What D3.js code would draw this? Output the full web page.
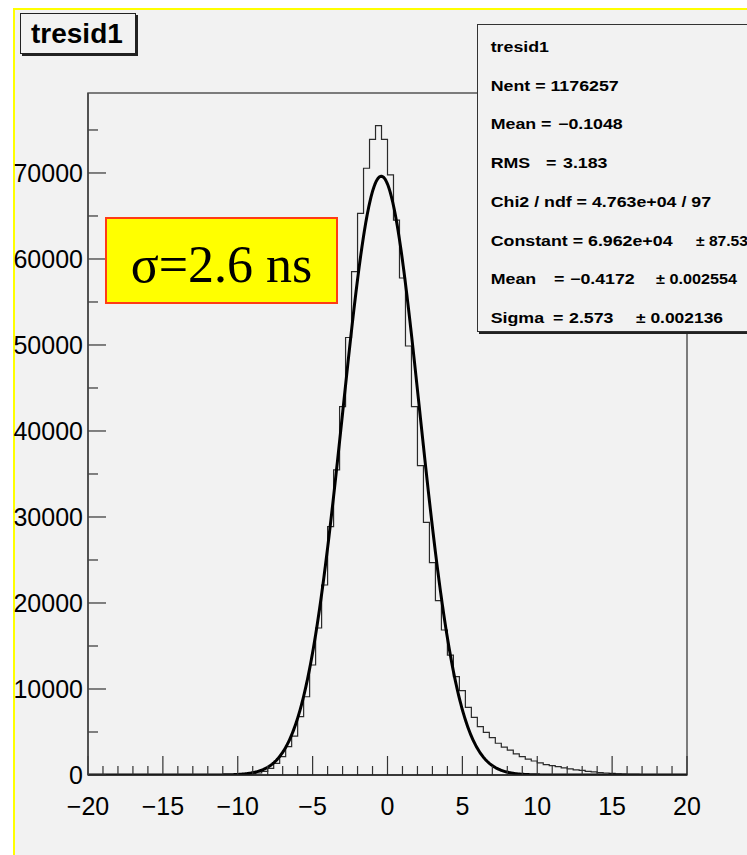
<!DOCTYPE html>
<html>
<head>
<meta charset="utf-8">
<script src="https://cdn.jsdelivr.net/npm/d3@7"></script>
<style>
  html, body { margin: 0; padding: 0; background: #ffffff; }
  svg { display: block; }
  text { white-space: pre; }
</style>
</head>
<body>
<svg id="chart" width="747" height="855"></svg>
<script>
// ---------------- data ----------------
const histName = "tresid1";
const binLow = -20, binHigh = 20, nBins = 100;
// bin contents (bin width 0.4, from -20 to 20)
const binCounts = [
  0, 0, 0, 0, 0, 0, 0, 0, 0, 0,
  0, 0, 0, 0, 0, 0, 0, 0, 0, 0,
  0, 0, 10, 15, 25, 40, 70, 120, 230, 420,
  780, 1360, 2130, 3290, 4530, 6780, 9100, 12790, 17090, 22090,
  28870, 35470, 42830, 50870, 58520, 65310, 70550, 73900, 75500, 73900,
  69770, 64530, 57790, 49880, 42830, 35970, 29380, 24690, 20270, 16860,
  13950, 11430, 9800, 7870, 6710, 5620, 4960, 4340, 3690, 3250,
  2900, 2450, 2130, 1850, 1630, 1400, 1200, 1080, 970, 820,
  720, 600, 530, 420, 360, 280, 230, 180, 140, 110,
  90, 70, 55, 45, 35, 28, 22, 18, 14, 10
];
// gaussian fit parameters shown in the stats box: Constant, Mean, Sigma
const fitParams = [69620, -0.4172, 2.573];
const xTickLabels = ["\u221220", "\u221215", "\u221210", "\u22125", "0", "5", "10", "15", "20"];
const xTickValues = [-20, -15, -10, -5, 0, 5, 10, 15, 20];
const yTickValues = [0, 10000, 20000, 30000, 40000, 50000, 60000, 70000];
const yTickLabels = ["0", "10000", "20000", "30000", "40000", "50000", "60000", "70000"];
const yMax = 79300;
const statLines = [
  ["tresid1"],
  ["Nent = 1176257"],
  ["Mean", "=", "\u22120.1048"],
  ["RMS", "=", "3.183"],
  ["Chi2 / ndf = 4.763e+04 / 97"],
  ["Constant = 6.962e+04", "", "", "\u00b1 87.53"],
  ["Mean", "=", "\u22120.4172", "\u00b1 0.002554"],
  ["Sigma", "=", "2.573", "\u00b1 0.002136"]
];
const annotation = "\u03c3=2.6 ns";

// ---------------- drawing ----------------
const svg = d3.select("#chart");
const BG = "#f2f2f2";
const frame = {left: 88, right: 687, top: 93, bottom: 775};

// pad background & yellow border
svg.append("rect").attr("x", 14).attr("y", 9).attr("width", 760).attr("height", 870)
  .attr("fill", BG).attr("stroke", "#ffff00").attr("stroke-width", 2);

const x = d3.scaleLinear().domain([binLow, binHigh]).range([frame.left, frame.right]);
const y = d3.scaleLinear().domain([0, yMax]).range([frame.bottom, frame.top]);

// frame
svg.append("rect").attr("x", frame.left).attr("y", frame.top)
  .attr("width", frame.right - frame.left).attr("height", frame.bottom - frame.top)
  .attr("fill", BG).attr("stroke", "#555").attr("stroke-width", 1.5);

// clip
svg.append("clipPath").attr("id", "clipFrame").append("rect")
  .attr("x", frame.left).attr("y", frame.top)
  .attr("width", frame.right - frame.left).attr("height", frame.bottom - frame.top);

// histogram outline
const bw = (binHigh - binLow) / nBins;
const histPts = binCounts.map((v, i) => [binLow + i * bw, v]);
histPts.push([binHigh, binCounts[nBins - 1]]);
const histLine = d3.line().x(d => x(d[0])).y(d => y(d[1])).curve(d3.curveStepAfter);
svg.append("path").attr("d", histLine(histPts))
  .attr("fill", "none").attr("stroke", "#2a2a2a").attr("stroke-width", 1.2)
  .attr("clip-path", "url(#clipFrame)");

// fit curve
const [C, mu, sg] = fitParams;
const fitPts = d3.range(binLow, binHigh + 0.001, 0.05).map(t => [t, C * Math.exp(-0.5 * ((t - mu) / sg) ** 2)]);
svg.append("path").attr("d", d3.line().x(d => x(d[0])).y(d => y(d[1])).curve(d3.curveLinear)(fitPts))
  .attr("fill", "none").attr("stroke", "#000").attr("stroke-width", 3)
  .attr("stroke-linejoin", "round")
  .attr("clip-path", "url(#clipFrame)");

// x axis ticks
const xMinor = d3.range(binLow, binHigh + 0.001, 1);
svg.append("g").selectAll("line").data(xMinor).join("line")
  .attr("x1", d => x(d)).attr("x2", d => x(d))
  .attr("y1", frame.bottom).attr("y2", d => frame.bottom - (d % 5 === 0 ? 19 : 9))
  .attr("stroke", "#333").attr("stroke-width", 1.2);
svg.append("line").attr("x1", frame.left).attr("x2", frame.right)
  .attr("y1", frame.bottom).attr("y2", frame.bottom)
  .attr("stroke", "#222").attr("stroke-width", 1.5);
svg.append("g").selectAll("text").data(xTickValues).join("text")
  .attr("x", d => x(d)).attr("y", 815)
  .attr("text-anchor", "middle")
  .attr("font-family", "Liberation Sans, Arial, sans-serif").attr("font-size", 25)
  .attr("fill", "#000")
  .text((d, i) => xTickLabels[i]);

// y axis ticks
const yMinor = d3.range(0, yMax, 5000);
svg.append("g").selectAll("line").data(yMinor).join("line")
  .attr("x1", frame.left).attr("x2", d => frame.left + (d % 10000 === 0 ? 18 : 10))
  .attr("y1", d => y(d)).attr("y2", d => y(d))
  .attr("stroke", "#333").attr("stroke-width", 1.2);
svg.append("line").attr("x1", frame.left).attr("x2", frame.left)
  .attr("y1", frame.top).attr("y2", frame.bottom)
  .attr("stroke", "#444").attr("stroke-width", 1.5);
svg.append("g").selectAll("text").data(yTickValues).join("text")
  .attr("x", 83).attr("y", d => y(d) + 9)
  .attr("text-anchor", "end")
  .attr("font-family", "Liberation Sans, Arial, sans-serif").attr("font-size", 25)
  .attr("fill", "#000")
  .text((d, i) => yTickLabels[i]);

// title box
svg.append("rect").attr("x", 22).attr("y", 15).attr("width", 116).attr("height", 41).attr("fill", "#222");
svg.append("rect").attr("x", 20.5).attr("y", 13.5).attr("width", 115).attr("height", 40)
  .attr("fill", BG).attr("stroke", "#222").attr("stroke-width", 1);
svg.append("text").attr("x", 31).attr("y", 43)
  .attr("font-family", "Liberation Sans, Arial, sans-serif").attr("font-size", 28).attr("font-weight", "bold")
  .attr("fill", "#000").text(histName);

// stats box
svg.append("rect").attr("x", 479).attr("y", 26).attr("width", 300).attr("height", 308).attr("fill", "#222");
svg.append("rect").attr("x", 477.5).attr("y", 24.5).attr("width", 300).attr("height", 307)
  .attr("fill", BG).attr("stroke", "#333").attr("stroke-width", 1);
// segment start x positions per line, and fixed widths for the "±" error parts
const layouts = {
  2: [490.7, 541, 558],
  3: [490.7, 546, 563],
  5: [490.7, 0, 0, 696],
  6: [490.7, 554, 570, 656],
  7: [490.7, 553, 569, 636]
};
const errWidths = {5: 52, 6: 81, 7: 87};
const sx = 1.27;
statLines.forEach((parts, li) => {
  const base = 52 + li * 38.7;
  const xs = layouts[li] || [490.7];
  parts.forEach((p, pi) => {
    if (!p) return;
    const t = svg.append("text")
      .attr("font-family", "Liberation Sans, Arial, sans-serif").attr("font-size", 14)
      .attr("font-weight", "bold").attr("fill", "#000")
      .text(p);
    if (pi === 3) {
      t.attr("x", xs[pi]).attr("y", base)
        .attr("textLength", errWidths[li]).attr("lengthAdjust", "spacingAndGlyphs");
    } else {
      t.attr("transform", `translate(${xs[pi]},${base}) scale(${sx},1)`);
    }
  });
});

// sigma annotation
svg.append("rect").attr("x", 106).attr("y", 218).attr("width", 231).attr("height", 85)
  .attr("fill", "#ffff00").attr("stroke", "#ff3c14").attr("stroke-width", 2);
svg.append("text").attr("x", 221.5).attr("y", 282).attr("text-anchor", "middle")
  .attr("font-family", "Liberation Serif, Times New Roman, serif").attr("font-size", 52)
  .attr("fill", "#000").text(annotation);
</script>
</body>
</html>
